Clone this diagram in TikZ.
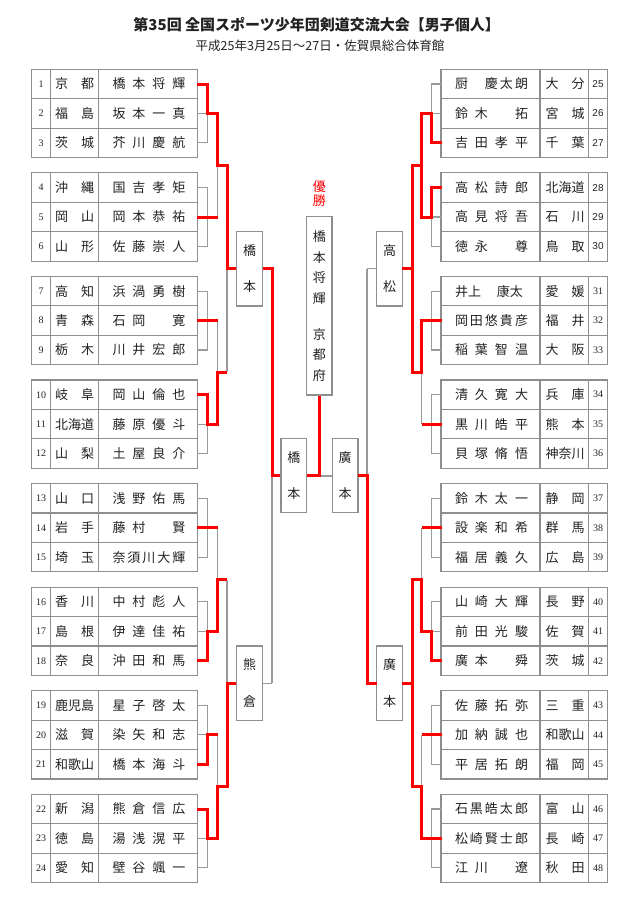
\documentclass[tikz,border=0pt]{standalone}
\usepackage{fontspec}
\setmainfont{Liberation Serif}
\newfontfamily\jp{Noto Sans CJK JP}
\newfontfamily\numsans{Liberation Sans}
\definecolor{lineg}{HTML}{9A9A9A}
\definecolor{tabg}{HTML}{8E8E8E}
\definecolor{txt}{HTML}{222222}
\makeatletter
\newif\ifsp@first
\newcommand\spreadtext[1]{\sp@firsttrue\@tfor\sp@c:=#1\do{\ifsp@first\sp@firstfalse\else\hfill\fi\sp@c}}
\makeatother
\newcommand\SP[1]{\spreadtext{#1}}
\newcommand\jpf{\fontsize{13bp}{13bp}\selectfont\jp}
\newcommand\Lrow[5]{%
  \pgfmathsetmacro\yy{84.02+103.57*#1+29.43*#2}
  \node[cell,font=\fontsize{10bp}{10bp}\selectfont\rmfamily] (n#3) at (41,\yy) {#3};
  \node[cell] (p#3) at (74.7,\yy) {\makebox[39bp]{\spreadtext{#4}}};
  \node[cell] (m#3) at (149,\yy) {\makebox[73bp]{\spreadtext{#5}}};
}
\newcommand\Rrow[5]{%
  \pgfmathsetmacro\yy{84.02+103.57*#1+29.43*#2}
  \node[cell,font=\fontsize{10bp}{10bp}\selectfont\ifnum#3<31 \numsans\else\rmfamily\fi] (n#3) at (598,\yy) {#3};
  \node[cell] (p#3) at (565,\yy) {\makebox[39bp]{\spreadtext{#5}}};
  \node[cell] (m#3) at (491.5,\yy) {\makebox[73bp]{#4}};
}
\begin{document}
\begin{tikzpicture}[x=1bp,y=-1bp,
  gl/.style={draw=lineg, line width=1.1bp},
  rl/.style={draw=red, line width=3bp, line join=miter},
  grid/.style={draw=tabg, line width=1.2bp},
  vbox/.style={draw=tabg, line width=1.2bp, fill=white, inner sep=0pt, minimum width=25.6bp, align=center, text=txt},
  cell/.style={inner sep=0pt, text=txt, font=\jpf},
  declare function={ty(\g)=84.02+103.57*\g; my(\g)=113.45+103.57*\g; by(\g)=142.88+103.57*\g; py(\k)=165.235+207.14*\k; qy(\j)=268.805+414.28*\j;}]
\useasboundingbox (0,0) rectangle (640,900);
\fill[white] (0,0) rectangle (640,900);

% titles
\node[inner sep=0pt, text=txt, font=\fontsize{15bp}{15bp}\selectfont\jp\bfseries] (title) at (316.7,24.5) {第35回 全国スポーツ少年団剣道交流大会【男子個人】};
\node[inner sep=0pt, text=txt, font=\fontsize{12.5bp}{12.5bp}\selectfont\jp] (subtitle) at (320,45.5) {平成25年3月25日～27日・佐賀県総合体育館};

% tables
\foreach \g in {0,...,7}{
  \pgfmathsetmacro\T{69.3+103.57*\g}
  \draw[grid] (31.7,\T) rectangle (197.3,\T+88.3);
  \draw[grid] (50.3,\T) -- (50.3,\T+88.3) (98.7,\T) -- (98.7,\T+88.3)
              (31.7,\T+29.43) -- (197.3,\T+29.43) (31.7,\T+58.86) -- (197.3,\T+58.86);
  \draw[grid] (441,\T) rectangle (607.3,\T+88.3);
  \draw[grid] (540,\T) -- (540,\T+88.3) (588.7,\T) -- (588.7,\T+88.3)
              (441,\T+29.43) -- (607.3,\T+29.43) (441,\T+58.86) -- (607.3,\T+58.86);
}

\Lrow{0}{0}{1}{京都}{橋本将輝}
\Lrow{0}{1}{2}{福島}{坂本一真}
\Lrow{0}{2}{3}{茨城}{芥川慶航}
\Lrow{1}{0}{4}{沖縄}{国吉孝矩}
\Lrow{1}{1}{5}{岡山}{岡本恭祐}
\Lrow{1}{2}{6}{山形}{佐藤崇人}
\Lrow{2}{0}{7}{高知}{浜渦勇樹}
\Lrow{2}{1}{8}{青森}{石岡　寛}
\Lrow{2}{2}{9}{栃木}{川井宏郎}
\Lrow{3}{0}{10}{岐阜}{岡山倫也}
\Lrow{3}{1}{11}{北海道}{藤原優斗}
\Lrow{3}{2}{12}{山梨}{土屋良介}
\Lrow{4}{0}{13}{山口}{浅野佑馬}
\Lrow{4}{1}{14}{岩手}{藤村　賢}
\Lrow{4}{2}{15}{埼玉}{奈須川大輝}
\Lrow{5}{0}{16}{香川}{中村彪人}
\Lrow{5}{1}{17}{島根}{伊達佳祐}
\Lrow{5}{2}{18}{奈良}{沖田和馬}
\Lrow{6}{0}{19}{鹿児島}{星子啓太}
\Lrow{6}{1}{20}{滋賀}{染矢和志}
\Lrow{6}{2}{21}{和歌山}{橋本海斗}
\Lrow{7}{0}{22}{新潟}{熊倉信広}
\Lrow{7}{1}{23}{徳島}{湯浅滉平}
\Lrow{7}{2}{24}{愛知}{壁谷颯一}

\Rrow{0}{0}{25}{厨\hfill 慶\kern2bp 太\kern2bp 朗}{大分}
\Rrow{0}{1}{26}{\SP{鈴木　拓}}{宮城}
\Rrow{0}{2}{27}{\SP{吉田孝平}}{千葉}
\Rrow{1}{0}{28}{\SP{高松詩郎}}{北海道}
\Rrow{1}{1}{29}{\SP{高見将吾}}{石川}
\Rrow{1}{2}{30}{\SP{徳永　尊}}{鳥取}
\Rrow{2}{0}{31}{井上\hspace{16bp}康太\hfill}{愛媛}
\Rrow{2}{1}{32}{\SP{岡田悠貴彦}}{福井}
\Rrow{2}{2}{33}{\SP{稲葉智温}}{大阪}
\Rrow{3}{0}{34}{\SP{清久寛大}}{兵庫}
\Rrow{3}{1}{35}{\SP{黒川皓平}}{熊本}
\Rrow{3}{2}{36}{\SP{貝塚脩悟}}{神奈川}
\Rrow{4}{0}{37}{\SP{鈴木太一}}{静岡}
\Rrow{4}{1}{38}{\SP{設楽和希}}{群馬}
\Rrow{4}{2}{39}{\SP{福居義久}}{広島}
\Rrow{5}{0}{40}{\SP{山崎大輝}}{長野}
\Rrow{5}{1}{41}{\SP{前田光駿}}{佐賀}
\Rrow{5}{2}{42}{\SP{廣本　舜}}{茨城}
\Rrow{6}{0}{43}{\SP{佐藤拓弥}}{三重}
\Rrow{6}{1}{44}{\SP{加納誠也}}{和歌山}
\Rrow{6}{2}{45}{\SP{平居拓朗}}{福岡}
\Rrow{7}{0}{46}{\SP{石黒皓太郎}}{富山}
\Rrow{7}{1}{47}{\SP{松崎賢士郎}}{長崎}
\Rrow{7}{2}{48}{\SP{江川　遼}}{秋田}

% gray bracket skeleton, both halves (right half mirrored)
\foreach \sc in {1,-1}{
\begin{scope}[shift={({(1-\sc)*319.5},0)}, xscale=\sc]
  \foreach \g in {0,...,7}{
    \draw[gl] (197.3,{ty(\g)}) -- (207.7,{ty(\g)}) -- (207.7,{by(\g)}) -- (197.3,{by(\g)});
    \draw[gl] (197.3,{my(\g)}) -- (217.5,{my(\g)});
  }
  \foreach \k in {0,...,3}{
    \draw[gl] (217.5,{my(2*\k)}) -- (217.5,{my(2*\k+1)});
    \draw[gl] (217.5,{py(\k)}) -- (227,{py(\k)});
  }
  \foreach \j in {0,1}{
    \draw[gl] (227,{py(2*\j)}) -- (227,{py(2*\j+1)});
    \draw[gl] (227,{qy(\j)}) -- (236.7,{qy(\j)});
    \draw[gl] (262.3,{qy(\j)}) -- (272,{qy(\j)});
  }
  \draw[gl] (272,{qy(0)}) -- (272,{qy(1)});
  \draw[gl] (272,475.945) -- (281,475.945);
\end{scope}
}
\draw[gl] (306.7,475.945) -- (332.3,475.945);

% boxes
\node[vbox, minimum height=74.3bp, font=\fontsize{13bp}{36.5bp}\selectfont\jp] (qL1) at (249.5,268.805) {橋\\本};
\node[vbox, minimum height=74.3bp, font=\fontsize{13bp}{36.5bp}\selectfont\jp] (qL2) at (249.5,683.085) {熊\\倉};
\node[vbox, minimum height=74.3bp, font=\fontsize{13bp}{36.5bp}\selectfont\jp] (qR1) at (389.5,268.805) {高\\松};
\node[vbox, minimum height=74.3bp, font=\fontsize{13bp}{36.5bp}\selectfont\jp] (qR2) at (389.5,683.085) {廣\\本};
\node[vbox, minimum height=74.4bp, font=\fontsize{13bp}{36.5bp}\selectfont\jp] (sL) at (293.85,475.5) {橋\\本};
\node[vbox, minimum height=74.4bp, font=\fontsize{13bp}{36.5bp}\selectfont\jp] (sR) at (345.15,475.5) {廣\\本};
\node[vbox, minimum width=25.3bp, minimum height=178.3bp, font=\fontsize{13bp}{20.5bp}\selectfont\jp] (champ) at (319.35,305.85) {橋\\本\\将\\輝\\[15.5bp]京\\都\\府};
\node[inner sep=0pt, align=center, text=red, font=\fontsize{13bp}{13.5bp}\selectfont\jp] (yusho) at (319.35,193.5) {優\\勝};

% red paths, left half
\draw[rl] (197.3,{ty(0)}) -| (207.7,{my(0)}) -- (217.5,{my(0)}) |- (227,{py(0)}) |- (qL1.west);
\draw[rl] (197.3,{my(1)}) -- (217.5,{my(1)});
\draw[rl] (197.3,{my(2)}) -- (217.5,{my(2)});
\draw[rl] (197.3,{ty(3)}) -| (207.7,{my(3)}) -- (217.5,{my(3)}) |- (227,{py(1)});
\draw[rl] (197.3,{my(4)}) -- (217.5,{my(4)});
\draw[rl] (197.3,{by(5)}) -| (207.7,{my(5)}) -- (217.5,{my(5)}) |- (227,{py(2)});
\draw[rl] (197.3,{by(6)}) -| (207.7,{my(6)}) -- (217.5,{my(6)});
\draw[rl] (197.3,{ty(7)}) -| (207.7,{my(7)}) -- (217.5,{my(7)}) |- (227,{py(3)}) |- (qL2.west);
\draw[rl] (qL1.east) -| (272,475.945) -- (sL.west |- 0,475.945);
\draw[rl] (sL.east |- 0,475.945) -| (champ.south);

% red paths, right half
\begin{scope}[shift={(639,0)}, xscale=-1]
\draw[rl] (197.3,{by(0)}) -| (207.7,{my(0)}) -- (217.5,{my(0)}) -- (217.5,{py(0)});
\draw[rl] (197.3,{ty(1)}) -| (207.7,{my(1)}) -- (217.5,{my(1)}) |- (227,{py(0)}) |- (236.7,{qy(0)});
\draw[rl] (197.3,{my(2)}) -- (217.5,{my(2)}) |- (227,{py(1)}) -- (227,{qy(0)});
\draw[rl] (197.3,{my(3)}) -- (217.5,{my(3)});
\draw[rl] (197.3,{my(4)}) -- (217.5,{my(4)});
\draw[rl] (197.3,{by(5)}) -| (207.7,{my(5)}) -- (217.5,{my(5)}) |- (227,{py(2)}) |- (236.7,{qy(1)});
\draw[rl] (197.3,{my(6)}) -- (217.5,{my(6)});
\draw[rl] (197.3,{my(7)}) -- (217.5,{my(7)}) |- (227,{py(3)}) -- (227,{qy(1)});
\draw[rl] (262.3,{qy(1)}) -| (272,475.945) -- (281,475.945);
\end{scope}
\end{tikzpicture}
\end{document}
